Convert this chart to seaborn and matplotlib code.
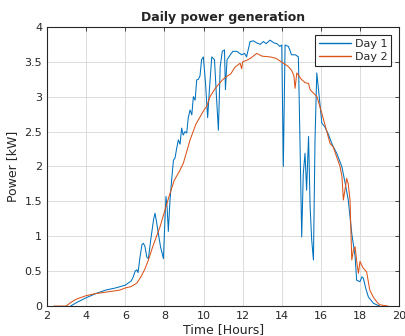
import numpy as np
import pandas as pd
import matplotlib
matplotlib.use('Agg')
import matplotlib.pyplot as plt
import seaborn as sns

# Day 1 readings (time in hours, power in kW)
t_day1 = [3.2, 3.5, 4.0, 4.5, 5.0, 5.5, 6.0, 6.3, 6.41, 6.5, 6.59, 6.65, 6.75, 6.85,
          6.92, 7.0, 7.1, 7.18, 7.3, 7.45, 7.52, 7.6, 7.69, 7.8, 7.95, 8.02, 8.08,
          8.14, 8.2, 8.28, 8.37, 8.46, 8.54, 8.62, 8.71, 8.8, 8.88, 8.96, 9.05, 9.14,
          9.22, 9.31, 9.4, 9.48, 9.57, 9.65, 9.74, 9.82, 9.9, 9.99, 10.1, 10.21,
          10.3, 10.42, 10.56, 10.66, 10.76, 10.85, 10.96, 11.07, 11.12, 11.2, 11.37,
          11.5, 11.7, 11.95, 12.1, 12.2, 12.38, 12.55, 12.72, 12.9, 13.06, 13.2,
          13.4, 13.6, 13.75, 13.9, 14.0, 14.08, 14.17, 14.34, 14.5, 14.7, 14.85,
          14.93, 15.02, 15.1, 15.19, 15.27, 15.37, 15.45, 15.53, 15.62, 15.7, 15.79,
          15.88, 16.05, 16.2, 16.4, 16.6, 16.81, 17.07, 17.25, 17.4, 17.58, 17.75,
          17.83, 18.0, 18.1, 18.17, 18.3, 18.43, 18.69, 19.0]
p_day1 = [0, 0.05, 0.12, 0.18, 0.23, 0.26, 0.3, 0.36, 0.42, 0.5, 0.52, 0.48, 0.7, 0.88,
          0.9, 0.86, 0.7, 0.68, 0.95, 1.25, 1.33, 1.2, 1.04, 0.85, 0.68, 1.2, 1.57,
          1.4, 1.07, 1.5, 1.81, 2.09, 2.12, 2.25, 2.38, 2.32, 2.55, 2.45, 2.5, 2.48,
          2.7, 2.81, 2.74, 3.0, 2.95, 3.24, 3.25, 3.3, 3.53, 3.57, 3.2, 2.7,
          3.1, 3.57, 3.53, 3.0, 2.52, 3.43, 3.65, 3.67, 3.1, 3.53, 3.6,
          3.65, 3.65, 3.6, 3.62, 3.57, 3.79, 3.8, 3.77, 3.75, 3.79, 3.76,
          3.81, 3.77, 3.76, 3.72, 3.74, 2.0, 3.74, 3.72, 3.6, 3.6, 3.57,
          2.38, 0.99, 1.9, 2.19, 1.66, 2.43, 1.42, 0.95, 0.66, 2.38, 3.34,
          3.1, 2.62, 2.57, 2.45, 2.3, 2.19, 2.0, 1.75, 1.52, 1.04, 0.71,
          0.37, 0.35, 0.42, 0.4, 0.25, 0.13, 0.04, 0]

# Day 2 readings
t_day2 = [2.35, 2.97, 3.2, 3.5, 4.0, 4.5, 5.0, 5.5, 5.73, 6.0, 6.3, 6.59, 6.8, 7.0,
          7.18, 7.4, 7.78, 8.0, 8.29, 8.5, 8.8, 8.97, 9.31, 9.6, 10.0, 10.16, 10.33,
          10.6, 10.84, 11.0, 11.19, 11.4, 11.6, 11.87, 11.95, 12.0, 12.2, 12.4,
          12.72, 13.0, 13.4, 13.7, 14.08, 14.3, 14.5, 14.62, 14.68, 14.77, 15.0,
          15.2, 15.37, 15.45, 15.7, 15.8, 16.05, 16.1, 16.47, 16.63, 16.98, 17.08,
          17.15, 17.25, 17.32, 17.4, 17.49, 17.58, 17.66, 17.75, 17.85, 17.92, 18.0,
          18.15, 18.34, 18.5, 18.7, 18.86, 19.0, 19.43]
p_day2 = [0, 0, 0.05, 0.1, 0.15, 0.18, 0.2, 0.22, 0.23, 0.26, 0.28, 0.33, 0.42, 0.53,
          0.66, 0.85, 1.14, 1.35, 1.62, 1.8, 1.95, 2.05, 2.38, 2.6, 2.8, 2.86, 3.0,
          3.12, 3.2, 3.25, 3.29, 3.33, 3.42, 3.48, 3.4, 3.5, 3.52, 3.55,
          3.62, 3.58, 3.57, 3.55, 3.48, 3.44, 3.38, 3.3, 3.12, 3.34, 3.25,
          3.2, 3.19, 3.1, 3.03, 3.0, 2.76, 2.71, 2.33, 2.28, 2.0, 1.85,
          1.52, 1.7, 1.83, 1.75, 1.52, 0.66, 0.8, 0.85, 0.6, 0.47, 0.64,
          0.55, 0.49, 0.23, 0.12, 0.06, 0.02, 0]

df = pd.concat([
    pd.DataFrame({'time': t_day1, 'power': p_day1, 'day': 'Day 1'}),
    pd.DataFrame({'time': t_day2, 'power': p_day2, 'day': 'Day 2'}),
])

sns.set_style('white')
plt.rcParams['font.family'] = ['DejaVu Sans']

fig = plt.figure(figsize=(4.06, 3.36), dpi=100)
ax = fig.add_axes([0.116, 0.089, 0.867, 0.831])

sns.lineplot(data=df, x='time', y='power', hue='day', sort=False, estimator=None,
             palette=['#0072BD', '#D95319'], linewidth=0.75, ax=ax)

ax.set_xlim(2, 20)
ax.set_ylim(0, 4)
ax.set_xticks(np.arange(2, 21, 2))
ax.set_yticks(np.arange(0, 4.01, 0.5))
ax.set_yticklabels(['0', '0.5', '1', '1.5', '2', '2.5', '3', '3.5', '4'])
ax.grid(True, color='#dcdcdc', linewidth=0.7)
ax.tick_params(direction='in', top=True, right=True, labelsize=8,
               colors='#262626', length=3, width=0.6)
for s in ax.spines.values():
    s.set_color('#262626')
    s.set_linewidth(0.8)

ax.set_title('Daily power generation', fontsize=9, fontweight='bold', pad=4)
ax.set_xlabel('Time [Hours]', fontsize=9, color='#262626', labelpad=1.5)
ax.set_ylabel('Power [kW]', fontsize=9, color='#262626', labelpad=4)

leg = ax.legend(loc='upper right', fontsize=8, fancybox=False, edgecolor='#262626',
                framealpha=1, borderaxespad=0.7, handlelength=2.9, handletextpad=0.3,
                borderpad=0.35, labelspacing=0.3)
leg.get_frame().set_linewidth(0.8)
for line in leg.get_lines():
    line.set_linewidth(1.0)

fig.savefig('out.png', dpi=100)
